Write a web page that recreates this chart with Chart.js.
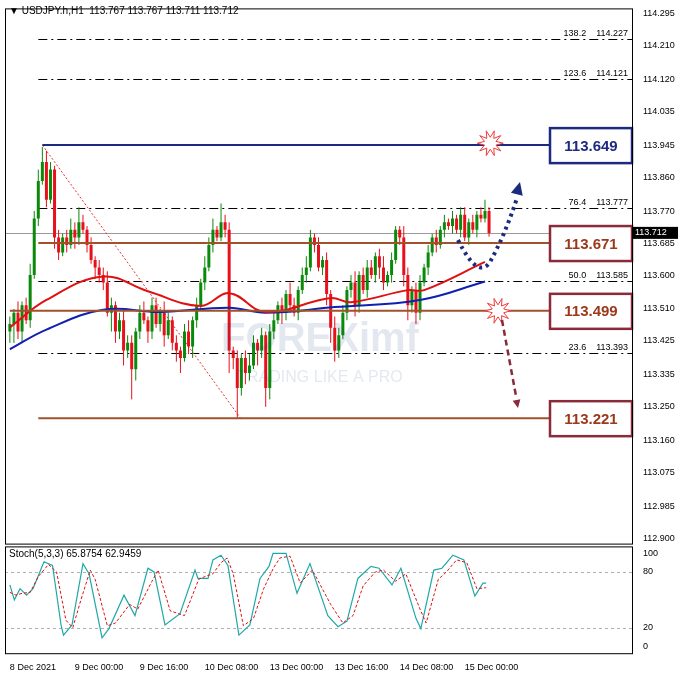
<!DOCTYPE html>
<html>
<head>
<meta charset="utf-8">
<script src="https://cdn.jsdelivr.net/npm/chart.js@4/dist/chart.umd.min.js"></script>
<style>
body{margin:0;background:#fff;}
#wrap{position:relative;width:678px;height:678px;background:#fff;}
#main{position:absolute;left:0;top:0;}
#stoch{position:absolute;left:0;top:538px;}
</style>
</head>
<body>
<div id="wrap">
<canvas id="main" width="678" height="552"></canvas>
<canvas id="stoch" width="678" height="140"></canvas>
</div>
<script>
// hourly closes, 8 Dec 08:00 -> 15 Dec
var closes = [113.47,113.50,113.45,113.52,113.48, 113.60,113.75,113.85,113.90, 113.80,113.88, 113.70,113.66,113.70,
  113.68,113.72,113.70,113.74,113.72, 113.68,113.64,113.62,113.60, 113.58,113.50,113.52,113.45,113.48,
  113.40,113.42,113.35,113.45, 113.50,113.48,113.45,113.52,113.47,113.50,113.44,113.48,113.42,
  113.40,113.38,113.45,113.41,113.48, 113.52,113.58,113.62,113.68,113.72,113.70,113.74,
  113.72,113.40,113.38, 113.30,113.38,113.34, 113.36,113.42,113.40,113.44,113.30,113.45,
  113.48,113.52,113.50,113.55,113.52,113.50,113.56,113.60,113.62, 113.70,113.68,113.62,113.64,
  113.55,113.46,113.40,113.44,113.50,113.56, 113.58,113.52,113.60,113.56,113.62,
  113.60,113.65,113.62,113.58,113.60,113.64,113.72, 113.70,113.60,113.52,113.56,113.50,
  113.58,113.62,113.66,113.70,113.68,113.72,113.74,
  113.73,113.75,113.72,113.76,113.70,113.74,113.72,113.76,113.75,113.77,113.712];
var firstOpen = 113.45;
// wick extension beyond body, in 0.01
var hiExt = [2,1,3,1,2, 3,2,3,4, 3,2, 1,2,1, 2,3,2,4,2, 1,2,1,2, 2,3,2,1,2, 3,2,2,1, 2,3,1,2,2,1,3,2,1,
  2,1,2,3,1, 2,1,3,2,3,1,5, 2,2,1, 2,1,2, 3,2,1,2,1,2, 2,1,2,1,3,2,1,2,3, 2,1,2,1, 2,1,3,2,2,1, 2,3,1,2,2,
  2,1,2,3,1,2,1, 1,3,2,1,2, 2,1,2,1,2,1,2, 1,2,1,2,2,1,2,1,2,3,1];
var loExt = [3,5,2,3,1, 2,1,2,1, 2,1, 3,2,1, 2,1,3,2,1, 2,1,3,2, 2,1,5,3,2, 4,2,8,3, 2,1,3,2,1,2,3,1,2,
  3,4,1,2,3, 2,1,2,1,2,1,1, 2,6,3, 8,2,3, 2,1,4,2,5,3, 2,1,3,2,2,1,2,1,2, 1,2,1,2, 3,4,3,2,1,2, 2,3,2,1,2,
  1,2,3,2,1,2,1, 2,3,4,2,3, 2,1,2,1,2,1,2, 1,2,1,2,1,2,1,2,1,1,1];
// moving averages (candle index, price)
var maRed = [[0,113.461],[9,113.534],[23,113.596],[34,113.557],[47,113.518],[54,113.552],[63,113.502],[79,113.539],[84,113.528],[98,113.560],[102,113.560],[117,113.635]];
var maBlue = [[0,113.403],[9,113.455],[23,113.508],[37,113.502],[54,113.513],[63,113.500],[80,113.515],[101,113.534],[117,113.583]];
// stochastic %K and %D
var stochK = [[0,66],[1.1,50],[2.5,62],[4.1,55],[5.7,62],[8.4,91],[10.5,87],[12.6,23],[13.2,12],[15.3,23],[18,89],[19.5,78],
  [22.7,9],[24.4,19],[28.1,55],[30.8,33],[34,84],[35.5,80],[38.2,23],[41.9,35],[45.6,82],[46.3,73],[48.8,73],[50,93],[52,98],
  [53.7,87],[56.4,12],[59.1,23],[61.6,73],[63.8,86],[64.8,100],[68,100],[70.7,57],[73.9,89],[78.3,33],[80.8,21],[83,27],
  [85.7,73],[88.9,86],[90.9,84],[94.1,66],[96.3,84],[100,30],[101.2,19],[104.4,82],[106.4,84],[109.1,98],[111.8,93],[114.5,54],[116.5,68],[117.3,68]];
var stochD = [[0,58],[1.5,55],[3,57],[5,58],[7,75],[9.5,88],[11.5,80],[13.8,28],[15.5,20],[17.5,50],[19.8,82],[21,72],
  [24,22],[26,25],[29.5,45],[31.5,40],[35,70],[36.5,82],[39.5,38],[43,33],[46.5,72],[48,75],[50,78],[52,90],[53.5,95],
  [55,78],[57.5,22],[60,30],[62.5,62],[65,85],[66.5,95],[69,97],[71.5,68],[74.5,82],[79,45],[82,25],[84.5,33],
  [87,65],[90,80],[92,82],[95,70],[97.5,78],[101,40],[102.5,25],[105.5,72],[107.5,80],[110,93],[112.5,90],[115,62],[117.3,63]];
var priceTicks = [114.295,114.210,114.120,114.035,113.945,113.860,113.770,113.685,113.600,113.510,113.425,113.335,113.250,113.160,113.075,112.985,112.900];
var timeLabels = ["8 Dec 2021","9 Dec 00:00","9 Dec 16:00","10 Dec 08:00","13 Dec 00:00","13 Dec 16:00","14 Dec 08:00","15 Dec 00:00"];
var fibLevels = [[138.2,114.227],[123.6,114.121],[76.4,113.777],[50.0,113.585],[23.6,113.393]];
var lastPrice = 113.712;

// candles as broken line segments: low-high wick, open-close body
var bodies = [], wicks = [];
(function(){
  var prev = firstOpen;
  for (var i = 0; i < closes.length; i++) {
    var o = prev, c = closes[i];
    var bHi = Math.max(o, c), bLo = Math.min(o, c);
    if (bHi - bLo < 0.004) { bHi += 0.002; bLo -= 0.002; }
    var up = c >= o;
    bodies.push({x: i, y: bLo, up: up}, {x: i, y: bHi, up: up}, {x: i, y: null});
    wicks.push({x: i, y: bLo - loExt[i] / 100, up: up}, {x: i, y: bHi + hiExt[i] / 100, up: up}, {x: i, y: null});
    prev = c;
  }
})();
function candleColor(ctx){ return ctx.p0.raw.up ? "#0a8a0a" : "#e8101a"; }
function pts(a){ return a.map(function(p){ return {x:p[0], y:p[1]}; }); }

var FONT = "Liberation Sans";
var XMIN = -1.2, XMAX = 153.2;

var frame = {
  id: "frame",
  afterDraw: function(chart){
    var a = chart.chartArea, ctx = chart.ctx;
    ctx.save(); ctx.strokeStyle = "#000"; ctx.lineWidth = 1;
    ctx.strokeRect(a.left + 0.5, a.top + 0.5, a.right - a.left, a.bottom - a.top);
    ctx.restore();
  }
};

function box(ctx, x, y, w, h, border, textColor, text){
  ctx.fillStyle = "#fff"; ctx.fillRect(x, y, w, h);
  ctx.strokeStyle = border; ctx.lineWidth = 2.5; ctx.strokeRect(x, y, w, h);
  ctx.fillStyle = textColor; ctx.font = "bold 15px " + FONT;
  ctx.textAlign = "center"; ctx.textBaseline = "middle";
  ctx.fillText(text, x + w / 2, y + h / 2 + 1);
}
function burst(ctx, cx, cy){
  ctx.beginPath();
  for (var k = 0; k < 20; k++) {
    var r = k % 2 ? 6 : 13, t = k * Math.PI / 10;
    ctx.lineTo(cx + r * Math.cos(t), cy + r * Math.sin(t));
  }
  ctx.closePath(); ctx.fillStyle = "#fff"; ctx.fill();
  ctx.strokeStyle = "#f03a3a"; ctx.lineWidth = 1; ctx.stroke();
}
function arrowHead(ctx, x1, y1, x2, y2, color, size){
  var ang = Math.atan2(y2 - y1, x2 - x1);
  ctx.beginPath(); ctx.moveTo(x2, y2);
  ctx.lineTo(x2 - size * Math.cos(ang - 0.45), y2 - size * Math.sin(ang - 0.45));
  ctx.lineTo(x2 - size * Math.cos(ang + 0.45), y2 - size * Math.sin(ang + 0.45));
  ctx.closePath(); ctx.fillStyle = color; ctx.fill();
}

var overlay = {
  id: "overlay",
  beforeDatasetsDraw: function(chart){
    var ctx = chart.ctx, xs = chart.scales.x, ys = chart.scales.y, a = chart.chartArea;
    ctx.save();
    ctx.strokeStyle = "#000"; ctx.lineWidth = 1; ctx.setLineDash([9, 4, 2, 4]);
    fibLevels.forEach(function(f){
      var y = Math.round(ys.getPixelForValue(f[1])) + 0.5;
      ctx.beginPath(); ctx.moveTo(xs.getPixelForValue(7), y); ctx.lineTo(a.right, y); ctx.stroke();
    });
    ctx.setLineDash([]);
    ctx.fillStyle = "#000"; ctx.font = "9px " + FONT; ctx.textAlign = "right"; ctx.textBaseline = "bottom";
    fibLevels.forEach(function(f){
      var y = ys.getPixelForValue(f[1]) - 1;
      ctx.fillText(f[0].toFixed(1) + "    " + f[1].toFixed(3), a.right - 4, y);
    });
    var yp = Math.round(ys.getPixelForValue(lastPrice)) + 0.5;
    ctx.strokeStyle = "#9a9a9a"; ctx.beginPath(); ctx.moveTo(a.left, yp); ctx.lineTo(a.right, yp); ctx.stroke();
    ctx.strokeStyle = "#e83030"; ctx.setLineDash([2, 2]);
    ctx.beginPath(); ctx.moveTo(xs.getPixelForValue(8), ys.getPixelForValue(113.945));
    ctx.lineTo(xs.getPixelForValue(56.8), ys.getPixelForValue(113.22)); ctx.stroke();
    ctx.setLineDash([]);
    ctx.restore();
  },
  afterDatasetsDraw: function(chart){
    var ctx = chart.ctx, xs = chart.scales.x, ys = chart.scales.y, a = chart.chartArea;
    ctx.save();
    // faint watermark over the candles
    ctx.globalAlpha = 0.12; ctx.fillStyle = "#1b3a7a"; ctx.textAlign = "center"; ctx.textBaseline = "middle";
    ctx.font = "bold 40px " + FONT; ctx.fillText("FOREXimf", 320, 340);
    ctx.font = "16px " + FONT; ctx.fillText("TRADING LIKE A PRO", 320, 378);
    ctx.globalAlpha = 1;
    var lv = [[113.945, 8, "#1c2a80", "#1c2a80", "113.649"],
              [113.685, 7, "#a0522d", "#9a3a1a", "113.671"],
              [113.505, 0, "#a0522d", "#9a3a1a", "113.499"],
              [113.22, 7, "#a0522d", "#9a3a1a", "113.221"]];
    lv.forEach(function(l, k){
      var y = ys.getPixelForValue(l[0]);
      ctx.strokeStyle = l[2]; ctx.lineWidth = 2;
      ctx.beginPath(); ctx.moveTo(xs.getPixelForValue(l[1]), y); ctx.lineTo(550, y); ctx.stroke();
      var border = k === 0 ? "#1c2a80" : "#8a2a3a";
      box(ctx, 550, y - 17, 82, 35, border, l[3], l[4]);
    });
    burst(ctx, xs.getPixelForValue(118.3), ys.getPixelForValue(113.950));
    burst(ctx, xs.getPixelForValue(120.2), ys.getPixelForValue(113.505));
    ctx.strokeStyle = "#1c2a80"; ctx.lineWidth = 4; ctx.setLineDash([3, 4]);
    ctx.beginPath(); ctx.moveTo(458, 240);
    ctx.quadraticCurveTo(478, 280, 490, 262); ctx.quadraticCurveTo(505, 235, 517, 198); ctx.stroke();
    ctx.setLineDash([]);
    arrowHead(ctx, 514, 205, 520, 182, "#1c2a80", 14);
    ctx.strokeStyle = "#8a2a3a"; ctx.lineWidth = 2.5; ctx.setLineDash([6, 4]);
    ctx.beginPath(); ctx.moveTo(502, 320); ctx.lineTo(516, 396); ctx.stroke();
    ctx.setLineDash([]);
    arrowHead(ctx, 515, 392, 518, 408, "#8a2a3a", 9);
    ctx.fillStyle = "#000"; ctx.font = "10px " + FONT; ctx.textAlign = "left"; ctx.textBaseline = "middle";
    ctx.fillText("\u25BC USDJPY.h,H1  113.767 113.767 113.711 113.712", 9, 11);
    var yp = ys.getPixelForValue(lastPrice);
    ctx.fillStyle = "#000"; ctx.fillRect(a.right + 1, yp - 6, 46, 12);
    ctx.fillStyle = "#fff"; ctx.font = "9px " + FONT; ctx.fillText("113.712", a.right + 3, yp);
    ctx.restore();
  }
};

new Chart(document.getElementById("main"), {
  type: "line",
  data: {
    datasets: [
      {data: wicks, borderWidth: 1, pointRadius: 0, spanGaps: false, segment: {borderColor: candleColor}, order: 3},
      {data: bodies, borderWidth: 3, borderCapStyle: "butt", pointRadius: 0, spanGaps: false, segment: {borderColor: candleColor}, order: 2},
      {data: pts(maRed), borderColor: "#e01010", borderWidth: 2, pointRadius: 0, tension: 0.4, order: 1},
      {data: pts(maBlue), borderColor: "#1020b0", borderWidth: 2, pointRadius: 0, tension: 0.4, order: 1}
    ]
  },
  options: {
    responsive: false, animation: false,
    layout: {padding: {left: 5, top: 0, right: 0, bottom: 0}},
    plugins: {legend: {display: false}, tooltip: {enabled: false}},
    scales: {
      x: {type: "linear", min: XMIN, max: XMAX, display: false},
      y: {
        position: "right", min: 112.887, max: 114.308,
        afterBuildTicks: function(s){ s.ticks = priceTicks.map(function(v){ return {value: v}; }); },
        afterFit: function(s){ s.width = 46; },
        grid: {display: false},
        border: {display: false},
        ticks: {color: "#000", font: {family: FONT, size: 9}, padding: 3, callback: function(v){ return v.toFixed(3); }}
      }
    }
  },
  plugins: [overlay, frame]
});

var stochDeco = {
  id: "stochDeco",
  beforeDatasetsDraw: function(chart){
    var ctx = chart.ctx, ys = chart.scales.y, a = chart.chartArea;
    ctx.save(); ctx.strokeStyle = "#b0b0b0"; ctx.lineWidth = 1; ctx.setLineDash([3, 3]);
    [80, 20].forEach(function(v){
      var y = Math.round(ys.getPixelForValue(v)) + 0.5;
      ctx.beginPath(); ctx.moveTo(a.left, y); ctx.lineTo(a.right, y); ctx.stroke();
    });
    ctx.restore();
  },
  afterDatasetsDraw: function(chart){
    var ctx = chart.ctx, a = chart.chartArea;
    ctx.save(); ctx.fillStyle = "#000"; ctx.font = "10px " + FONT; ctx.textBaseline = "middle";
    ctx.fillText("Stoch(5,3,3) 65.8754 62.9459", 9, a.top + 8);
    ctx.restore();
  }
};

new Chart(document.getElementById("stoch"), {
  type: "line",
  data: {
    datasets: [
      {data: pts(stochD), borderColor: "#e01010", borderWidth: 1, borderDash: [3, 2], pointRadius: 0},
      {data: pts(stochK), borderColor: "#20a8a8", borderWidth: 1.2, pointRadius: 0}
    ]
  },
  options: {
    responsive: false, animation: false,
    layout: {padding: {left: 5, top: 4, right: 0, bottom: 4}},
    plugins: {legend: {display: false}, tooltip: {enabled: false}},
    scales: {
      x: {
        type: "linear", min: XMIN, max: XMAX,
        afterBuildTicks: function(s){ s.ticks = timeLabels.map(function(t, k){ return {value: k * 16}; }); },
        grid: {display: false}, border: {display: false},
        ticks: {color: "#000", align: "start", maxRotation: 0, autoSkip: false, font: {family: FONT, size: 9}, padding: 1,
          callback: function(v){ return timeLabels[Math.round(v / 16)]; }}
      },
      y: {
        position: "right", min: -7.5, max: 107.5,
        afterBuildTicks: function(s){ s.ticks = [100, 80, 20, 0].map(function(v){ return {value: v}; }); },
        afterFit: function(s){ s.width = 46; },
        grid: {display: false}, border: {display: false},
        ticks: {color: "#000", font: {family: FONT, size: 9}, padding: 3}
      }
    }
  },
  plugins: [stochDeco, frame]
});
</script>
</body>
</html>
